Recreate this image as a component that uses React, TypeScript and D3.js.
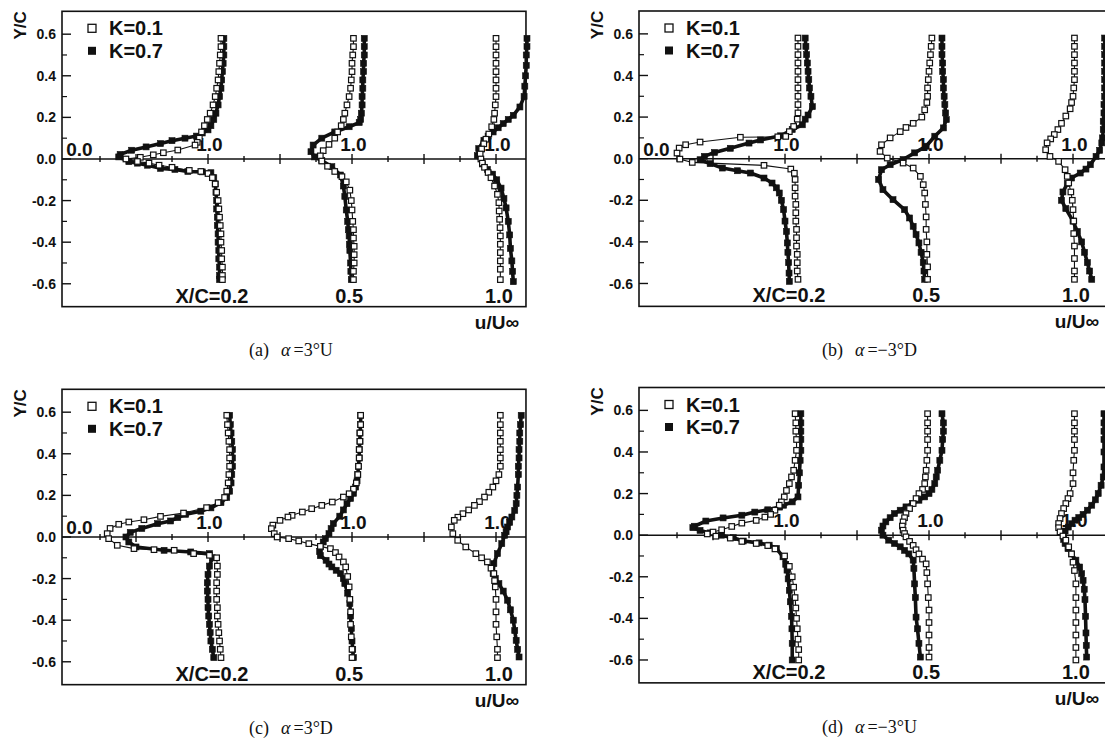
import { useEffect, useRef } from "react";
import * as d3 from "d3";

// [Y/C, u/U∞] pairs, u relative to each station's own origin
type Pt = [number, number];

const stationLabels = ["X/C=0.2", "0.5", "1.0"];
const legendLabels = ["K=0.1", "K=0.7"];
const yTickValues = [-0.6, -0.4, -0.2, 0, 0.2, 0.4, 0.6];
const yTickLabels = ["-0.6", "-0.4", "-0.2", "0.0", "0.2", "0.4", "0.6"];
const yMinorTicks = [-0.5, -0.3, -0.1, 0.1, 0.3, 0.5];
const xTickValues = [0.25, 0.5, 0.75, 1, 1.25, 1.5, 1.75, 2, 2.25, 2.5, 2.75, 3];
const captionTags = ["(a)", "(b)", "(c)", "(d)"];
const captionAngles = ["=3°U", "=−3°D", "=3°D", "=−3°U"];

// (a) α=3°U
const a1K01: Pt[] = [[0.58,1.09],[0.54,1.09],[0.5,1.085],[0.46,1.08],[0.42,1.075],[0.38,1.07],[0.34,1.06],[0.3,1.05],[0.26,1.035],[0.22,1.015],[0.19,0.995],[0.16,0.975],[0.13,0.955],[0.1,0.94],[0.08,0.925],[0.067,0.91],[0.043,0.79],[0.03,0.69],[0.02,0.62],[0.008,0.53],[0,0.43],[-0.012,0.51],[-0.02,0.59],[-0.03,0.66],[-0.04,0.75],[-0.055,0.87],[-0.06,0.95],[-0.07,1.0],[-0.09,1.03],[-0.12,1.05],[-0.16,1.06],[-0.2,1.07],[-0.24,1.075],[-0.28,1.08],[-0.32,1.085],[-0.36,1.09],[-0.4,1.09],[-0.44,1.095],[-0.48,1.095],[-0.52,1.1],[-0.56,1.1],[-0.58,1.1]];
const a1K07: Pt[] = [[0.58,1.11],[0.54,1.11],[0.5,1.11],[0.46,1.105],[0.42,1.1],[0.38,1.095],[0.34,1.09],[0.3,1.08],[0.26,1.07],[0.22,1.055],[0.19,1.04],[0.16,1.02],[0.14,1.0],[0.125,0.96],[0.11,0.92],[0.1,0.84],[0.088,0.75],[0.074,0.67],[0.058,0.57],[0.042,0.47],[0.022,0.39],[0.01,0.38],[-0.013,0.45],[-0.02,0.51],[-0.03,0.58],[-0.045,0.67],[-0.05,0.77],[-0.06,0.86],[-0.062,0.96],[-0.066,1.02],[-0.09,1.04],[-0.12,1.05],[-0.16,1.055],[-0.2,1.06],[-0.24,1.06],[-0.28,1.065],[-0.32,1.065],[-0.36,1.07],[-0.4,1.07],[-0.44,1.075],[-0.48,1.075],[-0.52,1.08],[-0.56,1.08],[-0.58,1.08]];
const a2K01: Pt[] = [[0.58,1.01],[0.54,1.01],[0.5,1.005],[0.46,1.0],[0.42,1.0],[0.38,0.995],[0.34,0.99],[0.3,0.98],[0.26,0.965],[0.22,0.95],[0.19,0.94],[0.16,0.925],[0.13,0.9],[0.1,0.88],[0.07,0.84],[0.04,0.8],[0.015,0.78],[-0.01,0.79],[-0.035,0.83],[-0.06,0.88],[-0.085,0.93],[-0.11,0.96],[-0.15,0.985],[-0.2,0.995],[-0.245,1.0],[-0.3,1.005],[-0.34,1.01],[-0.38,1.01],[-0.42,1.015],[-0.46,1.015],[-0.5,1.015],[-0.54,1.01],[-0.58,1.01]];
const a2K07: Pt[] = [[0.58,1.085],[0.54,1.085],[0.5,1.085],[0.46,1.08],[0.42,1.08],[0.38,1.075],[0.34,1.075],[0.3,1.07],[0.26,1.07],[0.22,1.065],[0.19,1.06],[0.175,1.05],[0.155,0.98],[0.13,0.88],[0.1,0.79],[0.067,0.73],[0.035,0.715],[0.01,0.74],[-0.008,0.79],[-0.037,0.86],[-0.077,0.92],[-0.13,0.94],[-0.18,0.95],[-0.245,0.96],[-0.3,0.97],[-0.34,0.975],[-0.37,0.98],[-0.41,0.982],[-0.44,0.985],[-0.5,0.99],[-0.54,0.992],[-0.58,0.995]];
const a3K01: Pt[] = [[0.58,1.0],[0.54,1.0],[0.5,1.0],[0.46,1.0],[0.42,1.0],[0.38,1.0],[0.34,1.0],[0.3,1.0],[0.26,0.995],[0.22,0.99],[0.19,0.985],[0.155,0.97],[0.12,0.95],[0.095,0.93],[0.073,0.915],[0.048,0.9],[0.024,0.89],[0,0.895],[-0.02,0.905],[-0.04,0.92],[-0.065,0.945],[-0.09,0.965],[-0.13,0.99],[-0.17,1.01],[-0.21,1.02],[-0.25,1.022],[-0.29,1.025],[-0.33,1.028],[-0.37,1.03],[-0.41,1.03],[-0.45,1.03],[-0.49,1.03],[-0.53,1.03],[-0.58,1.03]];
const a3K07: Pt[] = [[0.58,1.215],[0.54,1.215],[0.5,1.21],[0.45,1.21],[0.4,1.205],[0.35,1.2],[0.3,1.195],[0.25,1.166],[0.21,1.12],[0.19,1.085],[0.17,1.05],[0.15,1.015],[0.13,0.98],[0.11,0.945],[0.09,0.916],[0.05,0.88],[0.016,0.87],[-0.024,0.905],[-0.05,0.94],[-0.073,0.976],[-0.1,1.005],[-0.14,1.035],[-0.19,1.055],[-0.235,1.07],[-0.3,1.085],[-0.365,1.095],[-0.43,1.1],[-0.49,1.11],[-0.54,1.115],[-0.59,1.12]];

// (b) α=-3°D
const b1K01: Pt[] = [[0.58,1.09],[0.54,1.09],[0.5,1.09],[0.46,1.09],[0.42,1.09],[0.38,1.09],[0.34,1.09],[0.3,1.09],[0.26,1.09],[0.22,1.09],[0.19,1.085],[0.155,1.06],[0.13,1.03],[0.107,1.005],[0.105,0.95],[0.103,0.69],[0.08,0.41],[0.067,0.31],[0.051,0.265],[0.027,0.25],[-0.002,0.27],[-0.018,0.356],[-0.032,0.854],[-0.05,1.04],[-0.07,1.065],[-0.1,1.07],[-0.14,1.07],[-0.18,1.07],[-0.22,1.075],[-0.26,1.075],[-0.3,1.075],[-0.34,1.08],[-0.38,1.08],[-0.42,1.08],[-0.46,1.085],[-0.5,1.085],[-0.54,1.085],[-0.58,1.09]];
const b1K07: Pt[] = [[0.58,1.14],[0.54,1.145],[0.5,1.15],[0.46,1.155],[0.42,1.16],[0.38,1.165],[0.34,1.17],[0.3,1.18],[0.25,1.19],[0.21,1.16],[0.19,1.14],[0.163,1.12],[0.14,1.05],[0.11,0.97],[0.09,0.83],[0.075,0.75],[0.05,0.62],[0.03,0.51],[0.011,0.44],[-0.005,0.41],[-0.024,0.48],[-0.045,0.565],[-0.058,0.67],[-0.069,0.76],[-0.093,0.854],[-0.117,0.91],[-0.14,0.94],[-0.165,0.96],[-0.2,0.975],[-0.245,0.99],[-0.3,1.0],[-0.35,1.01],[-0.405,1.016],[-0.45,1.02],[-0.5,1.025],[-0.55,1.028],[-0.59,1.03]];
const b2K01: Pt[] = [[0.58,1.02],[0.54,1.015],[0.5,1.01],[0.46,1.005],[0.42,1.0],[0.38,0.995],[0.34,0.99],[0.3,0.99],[0.27,0.985],[0.235,0.97],[0.2,0.95],[0.17,0.89],[0.15,0.84],[0.13,0.8],[0.1,0.73],[0.067,0.67],[0.035,0.66],[0.003,0.71],[-0.021,0.82],[-0.045,0.89],[-0.085,0.94],[-0.125,0.96],[-0.165,0.97],[-0.22,0.975],[-0.28,0.98],[-0.34,0.98],[-0.4,0.985],[-0.46,0.985],[-0.52,0.99],[-0.58,0.99]];
const b2K07: Pt[] = [[0.58,1.09],[0.54,1.09],[0.5,1.09],[0.46,1.095],[0.42,1.095],[0.38,1.1],[0.34,1.1],[0.3,1.105],[0.26,1.11],[0.22,1.115],[0.188,1.12],[0.148,1.1],[0.108,1.04],[0.06,0.98],[0.028,0.9],[-0.004,0.82],[-0.029,0.73],[-0.053,0.67],[-0.1,0.65],[-0.149,0.68],[-0.197,0.75],[-0.245,0.83],[-0.285,0.865],[-0.325,0.89],[-0.365,0.91],[-0.405,0.93],[-0.45,0.945],[-0.5,0.96],[-0.54,0.965],[-0.58,0.97]];
const b3K01: Pt[] = [[0.58,1.01],[0.54,1.01],[0.5,1.01],[0.46,1.01],[0.42,1.01],[0.38,1.01],[0.34,1.005],[0.3,1.0],[0.27,0.99],[0.24,0.98],[0.205,0.95],[0.17,0.92],[0.14,0.895],[0.116,0.87],[0.095,0.845],[0.076,0.82],[0.043,0.81],[0.011,0.84],[-0.013,0.9],[-0.053,0.945],[-0.085,0.96],[-0.117,0.97],[-0.16,0.985],[-0.2,0.995],[-0.245,1.0],[-0.3,1.005],[-0.36,1.005],[-0.42,1.01],[-0.48,1.01],[-0.54,1.01],[-0.58,1.01]];
const b3K07: Pt[] = [[0.58,1.22],[0.54,1.22],[0.5,1.22],[0.46,1.22],[0.42,1.22],[0.38,1.22],[0.34,1.22],[0.3,1.22],[0.26,1.215],[0.22,1.215],[0.18,1.21],[0.14,1.21],[0.1,1.205],[0.076,1.2],[0.04,1.185],[0.011,1.16],[-0.029,1.12],[-0.05,1.09],[-0.069,1.05],[-0.093,0.99],[-0.12,0.96],[-0.16,0.93],[-0.2,0.92],[-0.24,0.95],[-0.3,1.0],[-0.35,1.03],[-0.4,1.06],[-0.45,1.08],[-0.5,1.1],[-0.54,1.115],[-0.58,1.13]];

// (c) α=3°D
const c1K01: Pt[] = [[0.585,1.13],[0.54,1.135],[0.5,1.14],[0.46,1.145],[0.42,1.15],[0.38,1.15],[0.34,1.15],[0.3,1.145],[0.26,1.14],[0.22,1.13],[0.19,1.115],[0.165,1.07],[0.141,0.99],[0.115,0.83],[0.099,0.67],[0.083,0.555],[0.072,0.45],[0.061,0.38],[0.041,0.32],[0.016,0.3],[-0.008,0.31],[-0.04,0.37],[-0.056,0.486],[-0.061,0.625],[-0.064,0.765],[-0.08,0.9],[-0.088,1.01],[-0.1,1.06],[-0.14,1.065],[-0.18,1.065],[-0.22,1.06],[-0.26,1.06],[-0.3,1.06],[-0.34,1.065],[-0.38,1.065],[-0.42,1.07],[-0.46,1.075],[-0.5,1.08],[-0.54,1.085],[-0.58,1.09]];
const c1K07: Pt[] = [[0.585,1.15],[0.54,1.155],[0.5,1.16],[0.46,1.165],[0.42,1.17],[0.38,1.17],[0.34,1.17],[0.3,1.165],[0.26,1.16],[0.22,1.15],[0.19,1.13],[0.165,1.09],[0.14,1.02],[0.124,0.95],[0.109,0.845],[0.093,0.79],[0.077,0.74],[0.064,0.65],[0.041,0.54],[0.022,0.46],[0,0.43],[-0.024,0.45],[-0.048,0.5],[-0.064,0.695],[-0.072,0.88],[-0.08,1.01],[-0.1,1.03],[-0.14,1.01],[-0.18,1.0],[-0.22,0.995],[-0.26,0.995],[-0.3,1.0],[-0.34,1.0],[-0.38,1.005],[-0.42,1.01],[-0.46,1.015],[-0.5,1.02],[-0.54,1.03],[-0.58,1.04]];
const c2K01: Pt[] = [[0.585,1.06],[0.54,1.06],[0.5,1.055],[0.46,1.055],[0.42,1.05],[0.38,1.05],[0.34,1.045],[0.3,1.04],[0.26,1.03],[0.23,1.01],[0.208,0.98],[0.192,0.94],[0.168,0.863],[0.152,0.79],[0.136,0.72],[0.12,0.655],[0.104,0.584],[0.096,0.555],[0.08,0.5],[0.057,0.45],[0.04,0.44],[0.016,0.46],[0,0.48],[-0.008,0.56],[-0.019,0.63],[-0.032,0.7],[-0.045,0.78],[-0.056,0.85],[-0.075,0.885],[-0.096,0.91],[-0.12,0.94],[-0.144,0.956],[-0.19,0.97],[-0.24,0.98],[-0.3,0.985],[-0.36,0.99],[-0.42,0.99],[-0.48,0.995],[-0.54,1.0],[-0.58,1.0]];
const c2K07: Pt[] = [[0.585,1.06],[0.54,1.06],[0.5,1.055],[0.46,1.055],[0.42,1.05],[0.38,1.05],[0.34,1.045],[0.3,1.04],[0.27,1.035],[0.24,1.025],[0.21,1.01],[0.185,0.99],[0.16,0.965],[0.13,0.94],[0.1,0.915],[0.064,0.87],[0.04,0.855],[0.016,0.84],[-0.008,0.815],[-0.024,0.8],[-0.048,0.78],[-0.07,0.775],[-0.09,0.78],[-0.112,0.82],[-0.13,0.84],[-0.144,0.86],[-0.16,0.89],[-0.176,0.92],[-0.2,0.94],[-0.224,0.95],[-0.27,0.97],[-0.32,0.985],[-0.38,0.99],[-0.44,0.995],[-0.5,1.0],[-0.54,1.005],[-0.58,1.01]];
const c3K01: Pt[] = [[0.585,1.03],[0.54,1.03],[0.5,1.03],[0.46,1.03],[0.42,1.03],[0.38,1.03],[0.34,1.03],[0.3,1.02],[0.27,1.0],[0.24,0.978],[0.215,0.95],[0.192,0.92],[0.17,0.885],[0.152,0.85],[0.13,0.81],[0.112,0.77],[0.095,0.735],[0.08,0.71],[0.048,0.69],[0.016,0.7],[-0.016,0.734],[-0.048,0.79],[-0.08,0.86],[-0.1,0.9],[-0.12,0.94],[-0.15,0.965],[-0.176,0.985],[-0.21,0.99],[-0.24,0.995],[-0.3,1.0],[-0.36,1.0],[-0.42,1.0],[-0.48,1.005],[-0.54,1.01],[-0.58,1.01]];
const c3K07: Pt[] = [[0.585,1.175],[0.54,1.17],[0.5,1.165],[0.46,1.165],[0.42,1.16],[0.38,1.16],[0.34,1.155],[0.3,1.155],[0.24,1.15],[0.2,1.145],[0.16,1.14],[0.128,1.13],[0.096,1.11],[0.07,1.095],[0.048,1.08],[0.025,1.07],[0.008,1.06],[-0.032,1.04],[-0.08,1.01],[-0.128,0.985],[-0.176,0.98],[-0.2,0.995],[-0.224,1.02],[-0.26,1.05],[-0.304,1.08],[-0.35,1.1],[-0.4,1.12],[-0.45,1.13],[-0.497,1.14],[-0.54,1.15],[-0.577,1.16]];

// (d) α=-3°U
const d1K01: Pt[] = [[0.584,1.07],[0.54,1.075],[0.5,1.075],[0.46,1.08],[0.408,1.08],[0.36,1.07],[0.312,1.06],[0.28,1.045],[0.248,1.03],[0.215,1.01],[0.184,0.995],[0.16,0.975],[0.144,0.96],[0.12,0.93],[0.1,0.9],[0.087,0.86],[0.071,0.8],[0.058,0.7],[0.042,0.63],[0.026,0.56],[0.015,0.5],[0.006,0.46],[-0.005,0.52],[-0.014,0.62],[-0.03,0.7],[-0.04,0.8],[-0.05,0.88],[-0.066,0.93],[-0.1,0.997],[-0.15,1.03],[-0.2,1.05],[-0.25,1.06],[-0.3,1.07],[-0.35,1.075],[-0.4,1.08],[-0.45,1.085],[-0.5,1.09],[-0.55,1.095],[-0.6,1.095]];
const d1K07: Pt[] = [[0.584,1.11],[0.54,1.11],[0.5,1.11],[0.46,1.11],[0.408,1.11],[0.36,1.105],[0.3,1.1],[0.24,1.095],[0.184,1.09],[0.16,1.05],[0.144,0.99],[0.135,0.963],[0.122,0.88],[0.111,0.79],[0.096,0.7],[0.083,0.57],[0.068,0.45],[0.043,0.37],[0.036,0.36],[0.023,0.41],[0.011,0.48],[0,0.56],[-0.012,0.64],[-0.028,0.71],[-0.037,0.82],[-0.048,0.89],[-0.064,0.94],[-0.104,0.986],[-0.14,1.005],[-0.168,1.014],[-0.21,1.022],[-0.265,1.03],[-0.32,1.037],[-0.39,1.045],[-0.45,1.048],[-0.52,1.05],[-0.6,1.05]];
const d2K01: Pt[] = [[0.584,0.99],[0.54,0.99],[0.5,0.99],[0.46,0.99],[0.408,0.99],[0.36,0.985],[0.312,0.98],[0.28,0.975],[0.248,0.97],[0.22,0.955],[0.2,0.93],[0.176,0.91],[0.152,0.89],[0.128,0.865],[0.104,0.84],[0.084,0.83],[0.064,0.82],[0.044,0.815],[0.024,0.82],[0.008,0.83],[-0.008,0.84],[-0.03,0.865],[-0.049,0.89],[-0.07,0.91],[-0.09,0.93],[-0.115,0.955],[-0.138,0.98],[-0.18,0.985],[-0.234,0.99],[-0.3,0.995],[-0.36,1.0],[-0.42,1.0],[-0.48,1.0],[-0.54,1.0],[-0.586,1.0]];
const d2K07: Pt[] = [[0.584,1.09],[0.54,1.1],[0.5,1.1],[0.46,1.095],[0.408,1.09],[0.36,1.075],[0.312,1.06],[0.28,1.05],[0.248,1.04],[0.22,1.02],[0.2,1.0],[0.184,0.97],[0.168,0.93],[0.152,0.885],[0.136,0.84],[0.12,0.8],[0.104,0.76],[0.084,0.73],[0.064,0.7],[0.044,0.68],[0.024,0.67],[0,0.68],[-0.024,0.72],[-0.04,0.76],[-0.056,0.8],[-0.073,0.83],[-0.09,0.86],[-0.12,0.89],[-0.16,0.895],[-0.234,0.9],[-0.3,0.905],[-0.394,0.91],[-0.45,0.92],[-0.52,0.93],[-0.586,0.94]];
const d3K01: Pt[] = [[0.584,1.01],[0.54,1.01],[0.5,1.01],[0.46,1.01],[0.408,1.01],[0.36,1.005],[0.3,1.0],[0.248,1.0],[0.2,0.98],[0.176,0.965],[0.152,0.95],[0.128,0.935],[0.104,0.92],[0.08,0.91],[0.056,0.9],[0.036,0.9],[0.016,0.91],[-0.004,0.93],[-0.024,0.95],[-0.056,0.97],[-0.09,0.99],[-0.13,1.0],[-0.17,1.01],[-0.234,1.02],[-0.3,1.02],[-0.36,1.02],[-0.42,1.02],[-0.48,1.02],[-0.54,1.02],[-0.6,1.02]];
const d3K07: Pt[] = [[0.584,1.215],[0.54,1.215],[0.5,1.215],[0.46,1.215],[0.4,1.215],[0.328,1.215],[0.28,1.21],[0.24,1.195],[0.2,1.175],[0.17,1.155],[0.144,1.13],[0.12,1.1],[0.1,1.07],[0.085,1.04],[0.072,1.014],[0.055,0.99],[0.039,0.967],[0.02,0.945],[0,0.933],[-0.02,0.935],[-0.04,0.945],[-0.065,0.965],[-0.09,0.99],[-0.12,1.02],[-0.153,1.046],[-0.185,1.06],[-0.217,1.07],[-0.26,1.078],[-0.31,1.083],[-0.39,1.087],[-0.47,1.09],[-0.53,1.092],[-0.586,1.095]];

const PX_PER_U = 144;
const PX_PER_Y = 208;
const X_MIN = -0.014;
const Y_MAX = 0.71;
const INK = "#111";
const SANS = "'Liberation Sans', Arial, Helvetica, sans-serif";
const SERIF = "'Liberation Serif', 'Times New Roman', serif";

interface PanelProps {
  left: number;
  top: number;
  xMax: number;
  k01: Pt[][];
  k07: Pt[][];
  index: number;
  zeroLabel: boolean;
}

const WakePanel = ({ left, top, xMax, k01, k07, index, zeroLabel }: PanelProps) => {
  const gRef = useRef<SVGGElement | null>(null);

  useEffect(() => {
    if (!gRef.current) return;
    const g = d3.select(gRef.current);
    g.selectAll("*").remove();

    const width = (xMax - X_MIN) * PX_PER_U;
    const height = 2 * Y_MAX * PX_PER_Y;
    const x = d3.scaleLinear().domain([X_MIN, xMax]).range([0, width]);
    const y = d3.scaleLinear().domain([-Y_MAX, Y_MAX]).range([height, 0]);
    const y0 = y(0);

    // frame
    g.append("rect")
      .attr("width", width)
      .attr("height", height)
      .attr("fill", "none")
      .attr("stroke", INK)
      .attr("stroke-width", 1.6);

    // left axis ticks (inside) + labels
    g.selectAll("line.ymaj")
      .data(yTickValues)
      .join("line")
      .attr("x1", 0)
      .attr("x2", 9)
      .attr("y1", (d) => y(d))
      .attr("y2", (d) => y(d))
      .attr("stroke", INK)
      .attr("stroke-width", 1.4);
    g.selectAll("line.ymin")
      .data(yMinorTicks)
      .join("line")
      .attr("x1", 0)
      .attr("x2", 5)
      .attr("y1", (d) => y(d))
      .attr("y2", (d) => y(d))
      .attr("stroke", INK)
      .attr("stroke-width", 1.2);
    g.selectAll("text.ylab")
      .data(yTickValues)
      .join("text")
      .attr("x", -6)
      .attr("y", (d) => y(d))
      .attr("dy", "0.36em")
      .attr("text-anchor", "end")
      .style("font-family", SANS)
      .style("font-weight", "bold")
      .style("font-size", "14px")
      .style("fill", INK)
      .text((_, i) => yTickLabels[i]);

    g.append("text")
      .attr("transform", `translate(-36, 14) rotate(-90)`)
      .attr("text-anchor", "middle")
      .style("font-family", SANS)
      .style("font-weight", "bold")
      .style("font-size", "17px")
      .style("fill", INK)
      .text("Y/C");

    // zero line with crossing ticks
    g.append("line")
      .attr("x1", 0)
      .attr("x2", width)
      .attr("y1", y0)
      .attr("y2", y0)
      .attr("stroke", INK)
      .attr("stroke-width", 1.6);
    g.selectAll("line.xt")
      .data(xTickValues)
      .join("line")
      .attr("x1", (d) => x(d))
      .attr("x2", (d) => x(d))
      .attr("y1", (d) => y0 - (d % 0.5 === 0 ? 5 : 3))
      .attr("y2", (d) => y0 + (d % 0.5 === 0 ? 5 : 3))
      .attr("stroke", INK)
      .attr("stroke-width", 1.4);

    const label = (tx: number, ty: number, txt: string, anchor: string, size = 19) =>
      g.append("text")
        .attr("x", tx)
        .attr("y", ty)
        .attr("text-anchor", anchor)
        .style("font-family", SANS)
        .style("font-weight", "bold")
        .style("font-size", `${size}px`)
        .style("fill", INK)
        .text(txt);

    // reference labels of each profile
    if (zeroLabel) label(x(0.015), y0 - 2.5, "0.0", "start");
    [0, 1, 2].forEach((s) => label(x(s + 1.01), y0 - 8, "1.0", "middle"));
    label(x(1.28), height - 4, stationLabels[0], "end", 20);
    label(x(1.98), height - 4, stationLabels[1], "middle", 20);
    label(x(3.02), height - 4, stationLabels[2], "middle", 20);
    label(width - 7, height + 22, "u/U∞", "end");

    // legend
    g.append("rect")
      .attr("x", 26)
      .attr("y", 13)
      .attr("width", 8)
      .attr("height", 8)
      .attr("fill", "#fff")
      .attr("stroke", INK)
      .attr("stroke-width", 1.3);
    g.append("rect")
      .attr("x", 26)
      .attr("y", 35.5)
      .attr("width", 8)
      .attr("height", 8)
      .attr("fill", INK);
    legendLabels.forEach((t, i) =>
      g.append("text")
        .attr("x", 47)
        .attr("y", 17 + i * 22.5)
        .attr("dy", "0.36em")
        .style("font-family", SANS)
        .style("font-weight", "bold")
        .style("font-size", "20px")
        .style("fill", INK)
        .text(t)
    );

    // profiles: K=0.7 below, K=0.1 on top
    const drawSeries = (series: Pt[][], filled: boolean) => {
      series.forEach((pts, s) => {
        const line = d3
          .line<Pt>()
          .x((d) => x(d[1] + s))
          .y((d) => y(d[0]));
        g.append("path")
          .attr("d", line(pts))
          .attr("fill", "none")
          .attr("stroke", INK)
          .attr("stroke-width", filled ? 3.6 : 1.1)
          .attr("stroke-linejoin", "round");
        const size = filled ? 6 : 5.5;
        g.append("g")
          .selectAll("rect")
          .data(pts)
          .join("rect")
          .attr("x", (d) => x(d[1] + s) - size / 2)
          .attr("y", (d) => y(d[0]) - size / 2)
          .attr("width", size)
          .attr("height", size)
          .attr("fill", filled ? INK : "#fff")
          .attr("stroke", INK)
          .attr("stroke-width", filled ? 0.6 : 1.2);
      });
    };
    drawSeries(k07, true);
    drawSeries(k01, false);

    // caption
    const cap = g.append("text")
      .attr("x", width / 2 - 3)
      .attr("y", 345)
      .attr("text-anchor", "middle")
      .style("font-family", SERIF)
      .style("font-size", "18px")
      .style("fill", INK);
    cap.append("tspan").text(captionTags[index]);
    cap.append("tspan").attr("dx", 12).style("font-style", "italic").text("α");
    cap.append("tspan").attr("dx", 3).text(captionAngles[index]);
  }, [left, top, xMax, k01, k07, index, zeroLabel]);

  return <g ref={gRef} transform={`translate(${left},${top})`} />;
};

export default function App() {
  return (
    <svg
      width={1105}
      height={740}
      style={{ position: "absolute", left: 0, top: 0, background: "#fff" }}
    >
      <rect width={1105} height={740} fill="#fff" />
      <WakePanel left={62} top={11.3} xMax={3.208} index={0} zeroLabel
        k01={[a1K01, a2K01, a3K01]} k07={[a1K07, a2K07, a3K07]} />
      <WakePanel left={639} top={11} xMax={3.229} index={1} zeroLabel
        k01={[b1K01, b2K01, b3K01]} k07={[b1K07, b2K07, b3K07]} />
      <WakePanel left={62} top={389.3} xMax={3.208} index={2} zeroLabel
        k01={[c1K01, c2K01, c3K01]} k07={[c1K07, c2K07, c3K07]} />
      <WakePanel left={639} top={387.5} xMax={3.229} index={3} zeroLabel={false}
        k01={[d1K01, d2K01, d3K01]} k07={[d1K07, d2K07, d3K07]} />
    </svg>
  );
}
